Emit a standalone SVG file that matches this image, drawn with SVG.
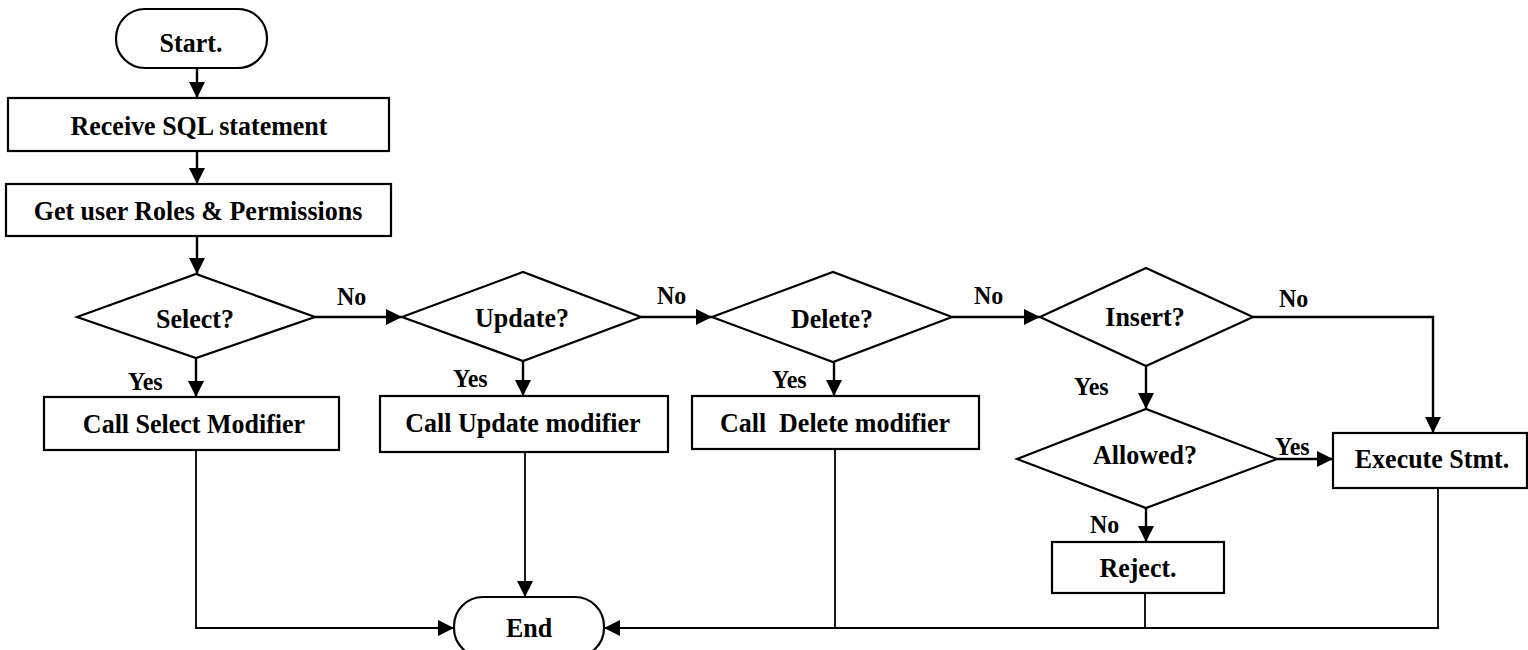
<svg xmlns="http://www.w3.org/2000/svg" width="1528" height="650" viewBox="0 0 1528 650">
  <style>
    .shape { fill: #ffffff; stroke: #000000; stroke-width: 2.2; }
    .conn { fill: none; stroke: #000000; stroke-width: 2.4; }
    .thin { stroke-width: 1.8; }
    text { font-family: "Liberation Serif", "Times New Roman", serif; font-weight: bold; fill: #000000; }
    .t { font-size: 26px; text-anchor: middle; }
    .lbl { font-size: 24px; }
  </style>
  <defs>
    <marker id="arrow" markerUnits="userSpaceOnUse" markerWidth="17" markerHeight="16" refX="16" refY="8" orient="auto">
      <path d="M0,0 L16,8 L0,16 z" fill="#000000"/>
    </marker>
  </defs>

  <rect width="1528" height="650" fill="#ffffff"/>

  <!-- connectors; text is drawn slightly taller than wide via scale(1,1.08) -->
  <g id="connectors">
    <path class="conn" d="M197,68 V98" marker-end="url(#arrow)"/>
    <path class="conn" d="M197,151 V184" marker-end="url(#arrow)"/>
    <path class="conn" d="M197,236 V274" marker-end="url(#arrow)"/>
    <path class="conn" d="M315,317 H402" marker-end="url(#arrow)"/>
    <path class="conn" d="M641,317 H712" marker-end="url(#arrow)"/>
    <path class="conn" d="M952,317 H1040" marker-end="url(#arrow)"/>
    <path class="conn" d="M1253,317 H1433 V433" marker-end="url(#arrow)"/>
    <path class="conn" d="M196,358 V397" marker-end="url(#arrow)"/>
    <path class="conn" d="M523,361 V396" marker-end="url(#arrow)"/>
    <path class="conn" d="M834,362 V396" marker-end="url(#arrow)"/>
    <path class="conn" d="M1146,366 V409" marker-end="url(#arrow)"/>
    <path class="conn" d="M1277,459 H1333" marker-end="url(#arrow)"/>
    <path class="conn" d="M1146,508 V542" marker-end="url(#arrow)"/>
    <path class="conn thin" d="M196,450 V628 H454" marker-end="url(#arrow)"/>
    <path class="conn thin" d="M525,452 V597" marker-end="url(#arrow)"/>
    <path class="conn thin" d="M1438,488 V628 H604" marker-end="url(#arrow)"/>
    <path class="conn thin" d="M835,449 V628"/>
    <path class="conn thin" d="M1145,593 V628"/>

    <text class="lbl" transform="translate(337,305) scale(1,1.08)">No</text>
    <text class="lbl" transform="translate(657,304) scale(1,1.08)">No</text>
    <text class="lbl" transform="translate(974,304) scale(1,1.08)">No</text>
    <text class="lbl" transform="translate(1279,307) scale(1,1.08)">No</text>
    <text class="lbl" transform="translate(128,390) scale(1,1.08)">Yes</text>
    <text class="lbl" transform="translate(453,387) scale(1,1.08)">Yes</text>
    <text class="lbl" transform="translate(772,388) scale(1,1.08)">Yes</text>
    <text class="lbl" transform="translate(1074,395) scale(1,1.08)">Yes</text>
    <text class="lbl" transform="translate(1275,455) scale(1,1.08)">Yes</text>
    <text class="lbl" transform="translate(1090,533) scale(1,1.08)">No</text>
  </g>

  <g id="start">
    <rect class="shape" x="116" y="9" width="151" height="59" rx="29" ry="29"/>
    <text class="t" transform="translate(191,52) scale(1,1.08)">Start.</text>
  </g>
  <g id="receive">
    <rect class="shape" x="8" y="98" width="381" height="53"/>
    <text class="t" transform="translate(199,135) scale(1,1.08)">Receive SQL statement</text>
  </g>
  <g id="roles">
    <rect class="shape" x="6" y="184" width="385" height="52"/>
    <text class="t" transform="translate(198,220) scale(1,1.08)">Get user Roles &amp; Permissions</text>
  </g>

  <g id="select">
    <polygon class="shape" points="77,317 196,274 315,317 196,358"/>
    <text class="t" transform="translate(195,328) scale(1,1.08)">Select?</text>
  </g>
  <g id="update">
    <polygon class="shape" points="402,317 523,272 641,317 523,361"/>
    <text class="t" transform="translate(522,327) scale(1,1.08)">Update?</text>
  </g>
  <g id="delete">
    <polygon class="shape" points="712,317 833,272 952,317 833,362"/>
    <text class="t" transform="translate(832,328) scale(1,1.08)">Delete?</text>
  </g>
  <g id="insert">
    <polygon class="shape" points="1040,317 1146,268 1253,317 1146,366"/>
    <text class="t" transform="translate(1145,326) scale(1,1.08)">Insert?</text>
  </g>
  <g id="allowed">
    <polygon class="shape" points="1017,459 1146,409 1277,459 1146,508"/>
    <text class="t" transform="translate(1145,464) scale(1,1.08)">Allowed?</text>
  </g>

  <g id="select-mod">
    <rect class="shape" x="44" y="397" width="295" height="53"/>
    <text class="t" transform="translate(194,433) scale(1,1.08)">Call Select Modifier</text>
  </g>
  <g id="update-mod">
    <rect class="shape" x="380" y="396" width="288" height="56"/>
    <text class="t" transform="translate(523,432) scale(1,1.08)">Call Update modifier</text>
  </g>
  <g id="delete-mod">
    <rect class="shape" x="692" y="396" width="287" height="53"/>
    <text class="t" transform="translate(835,432) scale(1,1.08)" xml:space="preserve">Call  Delete modifier</text>
  </g>
  <g id="execute">
    <rect class="shape" x="1333" y="433" width="194" height="55"/>
    <text class="t" transform="translate(1432,468) scale(1,1.08)">Execute Stmt.</text>
  </g>
  <g id="reject">
    <rect class="shape" x="1052" y="542" width="172" height="51"/>
    <text class="t" transform="translate(1138,577) scale(1,1.08)">Reject.</text>
  </g>
  <g id="end">
    <rect class="shape" x="454" y="597" width="150" height="60" rx="29" ry="29"/>
    <text class="t" transform="translate(529,637) scale(1,1.08)">End</text>
  </g>
</svg>
